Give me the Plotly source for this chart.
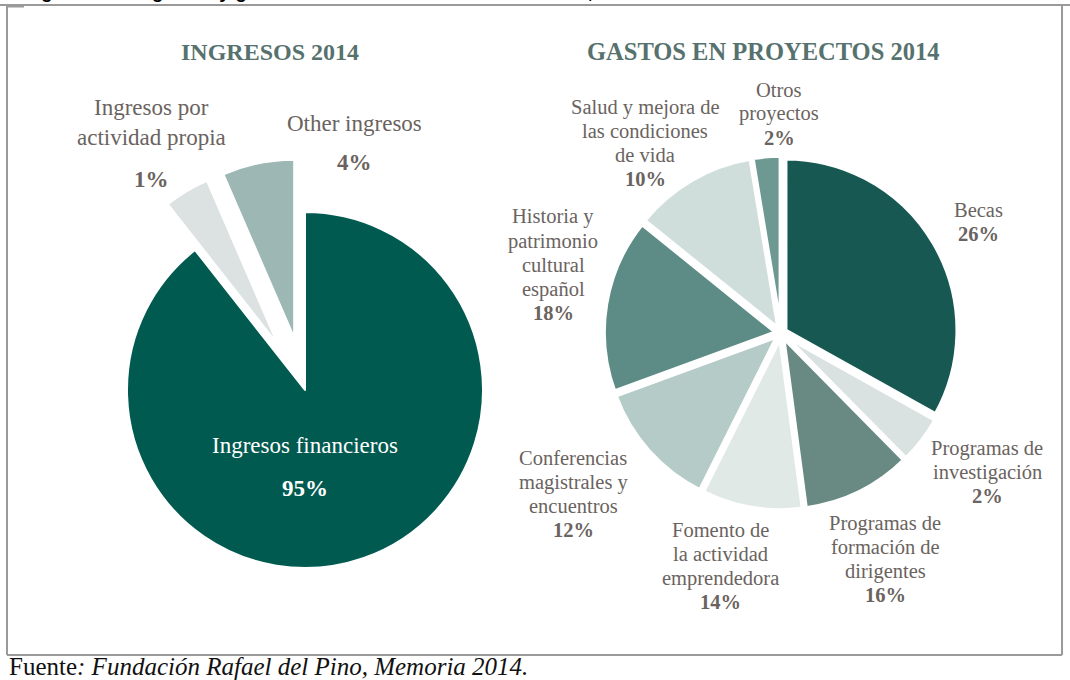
import plotly.graph_objects as go

W, H = 1070, 680

# ---------------- data ----------------
ingresos_labels = ["Ingresos financieros", "Ingresos por actividad propia", "Other ingresos"]
ingresos_pct = ["95%", "1%", "4%"]
ingresos_share = [89.4, 4.1, 6.5]          # slice sizes as drawn
ingresos_colors = ["#005A4F", "#DCE2E1", "#9CB7B4"]

gastos_labels = ["Becas", "Programas de investigación", "Programas de formación de dirigentes",
                 "Fomento de la actividad emprendedora", "Conferencias magistrales y encuentros",
                 "Historia y patrimonio cultural español", "Salud y mejora de las condiciones de vida",
                 "Otros proyectos"]
gastos_pct = ["26%", "2%", "16%", "14%", "12%", "18%", "10%", "2%"]
gastos_share = [33.1, 4.5, 10.3, 9.5, 12.0, 16.4, 11.6, 2.6]   # slice sizes as drawn
gastos_colors = ["#175852", "#D9E2E0", "#688A83", "#E1E9E7", "#B5CBC8", "#5C8C85", "#CFDEDB", "#6E9892"]

# display text (line-broken) for labels
ingresos_disp = ["Ingresos financieros", "Ingresos por<br>actividad propia", "Other ingresos"]
gastos_disp = ["Becas", "Programas de<br>investigación", "Programas de<br>formación de<br>dirigentes",
               "Fomento de<br>la actividad<br>emprendedora", "Conferencias<br>magistrales y<br>encuentros",
               "Historia y<br>patrimonio<br>cultural<br>español", "Salud y mejora de<br>las condiciones<br>de vida",
               "Otros<br>proyectos"]


def px(x):
    return x / W


def py(y):
    return 1 - y / H


def domain(cx, cy, r, pull):
    h = r * (1 + pull)
    return dict(x=[px(cx - h), px(cx + h)], y=[py(cy + h), py(cy - h)])


fig = go.Figure()

fig.add_trace(go.Pie(
    labels=ingresos_labels, values=ingresos_share, sort=False, direction="clockwise", rotation=0,
    marker=dict(colors=ingresos_colors, line=dict(color="white", width=2)),
    pull=[0, 0.3, 0.3], textinfo="none", hoverinfo="label",
    domain=domain(305, 390, 178, 0.3), showlegend=False,
))

fig.add_trace(go.Pie(
    labels=gastos_labels, values=gastos_share, sort=False, direction="clockwise", rotation=0,
    marker=dict(colors=gastos_colors, line=dict(color="white", width=4)),
    pull=[0.03] * len(gastos_share), textinfo="none", hoverinfo="label",
    domain=domain(781, 333, 172, 0.03), showlegend=False,
))

SERIF = "Liberation Serif, DejaVu Serif, serif"
LBL = "#6A6360"
ann = []


def text_at(t, x, y, size, color, anchor="center"):
    ann.append(dict(text=t, x=px(x), y=py(y), xref="paper", yref="paper",
                    xanchor=anchor, yanchor="middle", showarrow=False,
                    font=dict(family=SERIF, size=size, color=color)))


def add_label(text, pct, x, y_first, size, lh, gap, color=LBL):
    lines = text.split("<br>")
    for k, ln in enumerate(lines):
        text_at(ln, x, y_first + k * lh, size, color)
    text_at("<b>" + pct + "</b>", x, y_first + (len(lines) - 1) * lh + gap, size, color)


# left pie labels
add_label(ingresos_disp[1], ingresos_pct[1], 151, 107, 23, 31, 42)
add_label(ingresos_disp[2], ingresos_pct[2], 354, 123, 23, 31, 39)
add_label(ingresos_disp[0], ingresos_pct[0], 305, 445, 23, 31, 43, color="white")

# right pie labels (center x, first-line y)
gpos = [(978, 210), (987, 448), (885, 523), (720, 530), (573, 458), (553, 217), (645, 107), (779, 90)]
for i, (x, y) in enumerate(gpos):
    add_label(gastos_disp[i], gastos_pct[i], x, y, 20.5, 24, 24)

# titles
text_at("<b>INGRESOS 2014</b>", 270, 52, 24, "#56716E")
text_at("<b>GASTOS EN PROYECTOS 2014</b>", 763, 52, 24.5, "#56716E")

# cut-off caption at the very top (only descenders visible, as in the reference)
ann.append(dict(text="<b>Figura 10.1. Ingresos y gastos de la Fundación Rafael del Pino, 2014</b>",
                x=px(22), y=py(4), xref="paper", yref="paper", showarrow=False,
                xanchor="left", yanchor="bottom", font=dict(family="Liberation Sans", size=19, color="#000")))

# source
ann.append(dict(text="Fuente<i>: Fundación Rafael del Pino, Memoria 2014.</i>",
                x=px(7), y=py(666), xref="paper", yref="paper", showarrow=False,
                xanchor="left", yanchor="middle", font=dict(family=SERIF, size=25, color="#111")))

line = dict(color="#9A9A9A", width=2)
shapes = [
    dict(type="line", xref="paper", yref="paper", x0=px(0), x1=px(1070), y0=py(5), y1=py(5), line=line),
    dict(type="line", xref="paper", yref="paper", x0=px(7), x1=px(7), y0=py(5), y1=py(655), line=line),
    dict(type="line", xref="paper", yref="paper", x0=px(1062), x1=px(1062), y0=py(5), y1=py(655), line=line),
    dict(type="line", xref="paper", yref="paper", x0=px(7), x1=px(1062), y0=py(655), y1=py(655), line=line),
    dict(type="line", xref="paper", yref="paper", x0=px(8), x1=px(24), y0=py(6.5), y1=py(6.5), line=line),
]

fig.update_layout(width=W, height=H, margin=dict(l=0, r=0, t=0, b=0),
                  paper_bgcolor="white", plot_bgcolor="white",
                  annotations=ann, shapes=shapes, showlegend=False)

fig.write_html("out.html")
